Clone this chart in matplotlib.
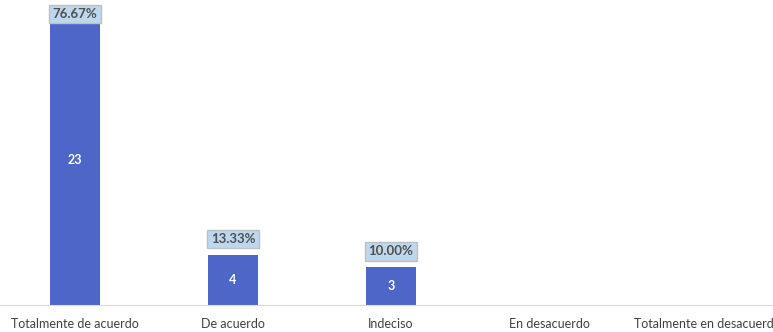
import matplotlib.pyplot as plt

categories = ["Totalmente de acuerdo", "De acuerdo", "Indeciso",
              "En desacuerdo", "Totalmente en desacuerdo"]
counts = [23, 4, 3, 0, 0]
pct_labels = ["76.67%", "13.33%", "10.00%", "", ""]

plt.rcParams['font.family'] = ['Lato', 'DejaVu Sans']

fig = plt.figure(figsize=(7.73, 3.32), dpi=100)
ax = fig.add_axes([0, 27/332, 1, 305/332])

ytop = 305/12.6
x = list(range(len(categories)))
ax.bar(x, counts, width=0.316, color='#4F66C9', zorder=2)

for xi, c, p in zip(x, counts, pct_labels):
    if c == 0:
        continue
    ax.text(xi, c/2, str(c), ha='center', va='center', color='white',
            fontsize=9, fontweight='bold')
    box = dict(boxstyle='square,pad=0.25', fc='#BDD7EE', ec='#BFBFBF', lw=1)
    if c + 2 > ytop:
        # no room above: put the label at the top, over the bar
        ax.text(xi, ytop - 0.65, p, ha='center', va='top', color='#505050',
                fontsize=9.5, fontweight='bold', zorder=3, bbox=box)
    else:
        ax.annotate(p, (xi, c), xytext=(0, 7), textcoords='offset points',
                    ha='center', va='bottom', color='#505050', fontsize=9.5,
                    fontweight='bold', zorder=3, bbox=box)

ax.set_xlim(-75/158, 698/158)
ax.set_ylim(0, ytop)
ax.set_xticks(x)
ax.set_xticklabels(categories, fontsize=9, color='#404040')
ax.tick_params(axis='x', length=0, pad=9)
ax.set_yticks([])
for s in ['top', 'right', 'left']:
    ax.spines[s].set_visible(False)
ax.spines['bottom'].set_color('#D9D9D9')

fig.savefig('out.png', dpi=100)
